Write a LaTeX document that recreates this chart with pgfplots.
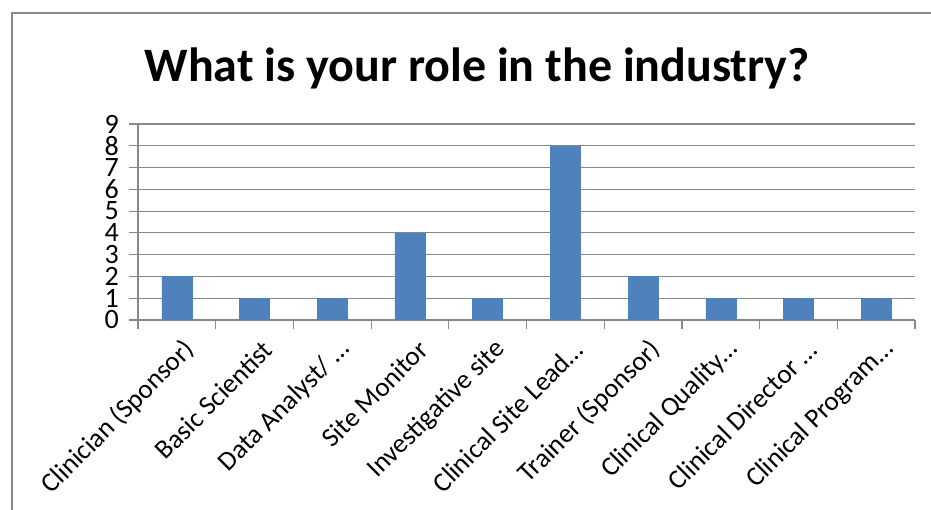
\documentclass[border=0pt]{standalone}
\usepackage{pgfplots}
\pgfplotsset{compat=1.18}
\usepackage{fontspec}
\setmainfont{Carlito}
\definecolor{barblue}{HTML}{4F81BD}
\definecolor{gridgray}{HTML}{888888}
\begin{document}
\begin{tikzpicture}[x=1pt,y=1pt]
\useasboundingbox[fill=white] (0,0) rectangle (931,510);
\draw[gridgray, line width=1.5pt] (12,0) -- (12,497) -- (931,497);
\node[anchor=base, font=\fontsize{48}{52}\selectfont\bfseries] at (477,428) {What is your role in the industry?};
\begin{axis}[
  at={(138pt,190pt)}, anchor=south west,
  scale only axis, width=777pt, height=196pt,
  xmin=-0.5, xmax=9.5, ymin=0, ymax=9,
  ytick={0,...,9},
  xtick={0,...,9},
  minor xtick={-0.5,0.5,...,9.5},
  xticklabels={Clinician (Sponsor),Basic Scientist,Data Analyst/ …,Site Monitor,Investigative site,Clinical Site Lead…,Trainer (Sponsor),Clinical Quality…,Clinical Director …,Clinical Program…},
  axis x line*=bottom, axis y line*=left,
  axis line style={gridgray, line width=1.2pt, -},
  ymajorgrids, grid style={gridgray, line width=1.2pt},
  tick align=outside,
  major x tick style={draw=none},
  major y tick style={gridgray, line width=1.2pt},
  minor x tick style={gridgray, line width=1.2pt},
  major tick length=9pt, minor tick length=9pt,
  /pgf/number format/assume math mode=true,
  ticklabel style={font=\fontsize{27}{30}\selectfont},
  yticklabel style={inner sep=0pt, xshift=-10pt},
  y tick label style={font=\fontsize{28}{22}\selectfont},
  xticklabel style={rotate=45, anchor=east, inner sep=0pt, xshift=-2pt, yshift=-21pt},
  ybar, bar width=30pt,
]
\addplot[fill=barblue, draw=barblue] coordinates {(0,2) (1,1) (2,1) (3,4) (4,1) (5,8) (6,2) (7,1) (8,1) (9,1)};
\end{axis}
\end{tikzpicture}
\end{document}
